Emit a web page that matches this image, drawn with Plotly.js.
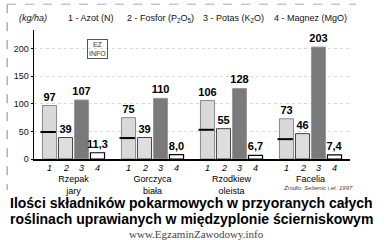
<!DOCTYPE html>
<html><head><meta charset="utf-8">
<script src="https://cdn.plot.ly/plotly-3.0.1.min.js"></script>
<style>html,body{margin:0;padding:0;background:#fff}#c{width:391px;height:240px}</style>
</head><body><div id="c"></div>
<script>
const crops = ["Rzepak<br>jary", "Gorczyca<br>biała", "Rzodkiew<br>oleista", "Facelia"];
const nutrientNames = ["1 - Azot (N)", "2 - Fosfor (P<sub>2</sub>O<sub>5</sub>)", "3 - Potas (K<sub>2</sub>O)", "4 - Magnez (MgO)"];
const nutrientNums = ["1", "2", "3", "4"];
const azot = [97, 75, 106, 73];
const fosfor = [39, 39, 55, 46];
const potas = [107, 110, 128, 203];
const magnez = [11.3, 8.0, 6.7, 7.4];
const azotMark = [49, 38, 53, 36];
const yTicks = [0, 50, 100, 150, 200];

const series = [azot, fosfor, potas, magnez];
const decimals = [0, 0, 0, 1];
const fills = ["#d9d9d9", "#dedede", "#7a7a7a", "#ffffff"];
const lines = ["#8a8a8a", "#444444", "#999999", "#000000"];
const fmt = (v, d) => v.toFixed(d).replace('.', ',');
const BW = 16; // px per bar slot

const data = series.map((vals, i) => ({
  type: 'bar', x: crops, y: vals, name: nutrientNums[i],
  text: vals.map(v => fmt(v, decimals[i])), textposition: 'outside', cliponaxis: false, constraintext: 'none',
  textfont: {family: 'Liberation Sans Narrow, Arial Narrow, Liberation Sans, Arial', size: 11, color: '#000', weight: 'bold'},
  marker: {color: fills[i], line: {color: lines[i], width: 1, dash: 'dot'}},
  hoverinfo: 'none'
}));
data[1].marker.line = {color: '#444', width: 1};
data[3].marker.line = {color: '#000', width: 1.2};

const F = 'Liberation Sans, Arial';
const annotations = [];
nutrientNames.forEach((n, i) => {
  annotations.push({xref: 'paper', yref: 'paper', x: [0.1, 0.288, 0.53, 0.753][i], y: 1.0, yshift: 12,
    xanchor: 'left', yanchor: 'middle', showarrow: false, text: n,
    font: {family: F, size: 9, color: '#111'}});
});
annotations.push({xref: 'paper', yref: 'paper', x: -0.002, y: 1.0, yshift: 12, xanchor: 'center', yanchor: 'middle',
  showarrow: false, text: '<i>(kg/ha)</i>', font: {family: F, size: 9, color: '#111'}});
crops.forEach(c => {
  nutrientNums.forEach((n, i) => {
    annotations.push({xref: 'x', yref: 'paper', x: c, y: 0, xshift: (i - 1.5) * BW, yshift: -2,
      xanchor: 'center', yanchor: 'top', showarrow: false, text: '<i>' + n + '</i>',
      font: {family: F, size: 9, color: '#000'}});
  });
});
annotations.push({xref: 'paper', yref: 'paper', x: 1.015, y: 0, yshift: -29, xanchor: 'right', yanchor: 'middle',
  showarrow: false, text: '<i>Źródło: Sebenic i.et. 1997</i>', font: {family: F, size: 6, color: '#444'}});
annotations.push({xref: 'paper', yref: 'paper', x: 0.2, y: 0.93, xanchor: 'center', yanchor: 'top',
  showarrow: false, text: 'EZ<br>INFO', font: {family: 'Liberation Sans Narrow, Arial', size: 7, color: '#333'},
  bordercolor: '#555', borderwidth: 1, borderpad: 1});
const titleLines = ['Ilości składników pokarmowych w przyoranych całych', 'roślinach uprawianych w międzyplonie ścierniskowym'];
titleLines.forEach((t, k) => {
  annotations.push({xref: 'paper', yref: 'paper', x: 0, y: 0, yshift: -44 - 16 * k, xshift: -26, xanchor: 'left', yanchor: 'middle',
    showarrow: false, text: '<b>' + t + '</b>', font: {family: F, size: 14, color: '#000'}});
});
annotations.push({xref: 'paper', yref: 'paper', x: 0.5, y: 0, yshift: -75, xshift: 4, xanchor: 'center', yanchor: 'middle',
  showarrow: false, text: 'www.EgzaminZawodowy.info',
  font: {family: 'Liberation Serif, Times New Roman', size: 11, color: '#444'}});

// azot marker dashes on bar 1
data.push({type: 'scatter', mode: 'markers', x: crops, y: azotMark, xaxis: 'x2', showlegend: false, hoverinfo: 'none',
  marker: {symbol: 'line-ew', size: 11, line: {color: '#000', width: 2}}});

const layout = {
  width: 391, height: 240, margin: {l: 34, r: 41, t: 30, b: 81},
  paper_bgcolor: '#fff', plot_bgcolor: '#fff', showlegend: false,
  barmode: 'group', bargap: 0.19, bargroupgap: 0.12,
  xaxis: {type: 'category', showline: true, linecolor: '#000', linewidth: 1.5, ticks: '', showgrid: false,
    tickfont: {family: F, size: 9, color: '#000'}, ticklabelstandoff: 11, fixedrange: true},
  xaxis2: {type: 'category', overlaying: 'x', visible: false, range: [-0.5 + 0.32, 3.5 + 0.32]},
  yaxis: {range: [0, 234], tickvals: yTicks, showline: true, linecolor: '#000', linewidth: 1.5,
    ticks: 'outside', ticklen: 2, tickcolor: '#000', zeroline: false,
    showgrid: true, gridcolor: '#d8d8d8', griddash: 'dot',
    tickfont: {family: F, size: 9, color: '#111'}},
  annotations: annotations,
  shapes: [
    {type: 'line', xref: 'paper', yref: 'paper', x0: -0.085, x1: -0.085, y0: 1.2, y1: -0.24, line: {color: '#888', width: 1, dash: 'dash'}},
    {type: 'line', xref: 'paper', yref: 'paper', x0: -0.085, x1: 1.02, y0: 1.2, y1: 1.2, line: {color: '#aaa', width: 1, dash: 'dash'}}
  ]
};
Plotly.newPlot('c', data, layout, {staticPlot: true, displayModeBar: false});
</script></body></html>
